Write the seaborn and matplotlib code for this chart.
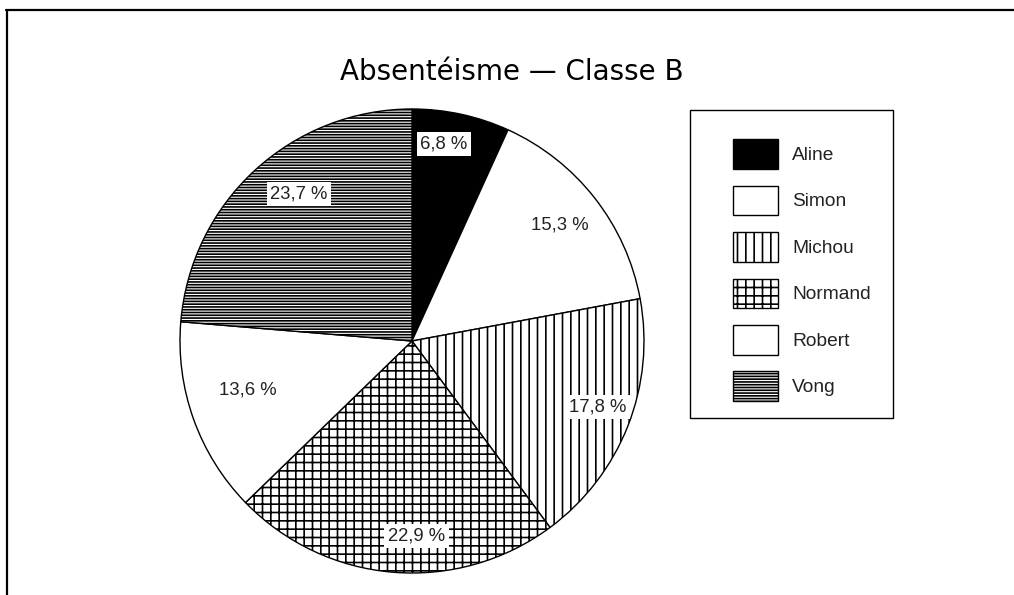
import numpy as np
import matplotlib
matplotlib.use("Agg")
import matplotlib.pyplot as plt
from matplotlib.lines import Line2D
from matplotlib.patches import Rectangle
import seaborn as sns

# Absence share per pupil, class B (percent)
students = ["Aline", "Simon", "Michou", "Normand", "Robert", "Vong"]
shares = [6.8, 15.3, 17.8, 22.9, 13.6, 23.7]
title = "Absentéisme — Classe B"

# Black-and-white fills for each slice
fills = ["black", "white", "white", "white", "white", "white"]
hatches = [None, None, "||", "++", None, "------"]

sns.set_style("white")
plt.rcParams["font.family"] = ["Liberation Sans", "DejaVu Sans"]
plt.rcParams["hatch.linewidth"] = 1.2
plt.rcParams["hatch.color"] = "black"

W, H = 1014, 595
fig = plt.figure(figsize=(W / 100, H / 100), dpi=100)
fig.patch.set_facecolor("white")

# Pie axes: centre (412, 341) px, radius 232 px
cx, cy, r = 412, 341, 232
ax = fig.add_axes([(cx - r) / W, (H - cy - r) / H, 2 * r / W, 2 * r / H])

wedges, _ = ax.pie(
    shares,
    startangle=90,
    counterclock=False,
    colors=fills,
    wedgeprops=dict(edgecolor="black", linewidth=1.0),
    radius=1.0,
)
for w, h in zip(wedges, hatches):
    if h:
        w.set_hatch(h)
ax.set_xlim(-1.0, 1.0)
ax.set_ylim(-1.0, 1.0)
ax.set_aspect("equal")
ax.axis("off")

# Percentage labels on white boxes, placed along each slice's mid-angle
label_r = [0.86, 0.81, 0.85, 0.84, 0.74, 0.80]
label_shift = [3, 0, 2, 6, -3, -5]
total = sum(shares)
start = 90.0
for v, lr, sh in zip(shares, label_r, label_shift):
    span = 360.0 * v / total
    mid = np.deg2rad(start - span / 2 + sh)
    start -= span
    txt = f"{v:.1f}".replace(".", ",") + " %"
    ax.text(lr * np.cos(mid), lr * np.sin(mid), txt, ha="center", va="center",
            fontsize=13.3, color="#222222",
            bbox=dict(facecolor="white", edgecolor="none", pad=2.5))

# Title
fig.text(512 / W, 1 - 72 / H, title, ha="center", va="center",
         fontsize=20, family=["DejaVu Sans"], color="black")

# Legend with its own square frame
fig.add_artist(Rectangle((690 / W, 1 - 418 / H), (893 - 690) / W, (418 - 110) / H,
                         transform=fig.transFigure, facecolor="white",
                         edgecolor="black", linewidth=1.0, zorder=1))
leg = fig.legend(
    wedges, students,
    loc="upper left", bbox_to_anchor=(712 / W, 1 - 118 / H),
    frameon=False, fontsize=13.8,
    handlelength=2.35, handleheight=2.0, labelspacing=0.88,
    handletextpad=0.73, borderpad=0.6,
)
leg.set_zorder(2)
for t in leg.get_texts():
    t.set_color("#222222")

# Page border: top and left edges
fig.add_artist(Line2D([6 / W, 1.0], [1 - 9.5 / H, 1 - 9.5 / H],
                      transform=fig.transFigure, color="black", linewidth=1.6))
fig.add_artist(Line2D([6.5 / W, 6.5 / W], [0.0, 1 - 9.5 / H],
                      transform=fig.transFigure, color="black", linewidth=1.6))

fig.savefig("out.png", dpi=100, facecolor="white")
